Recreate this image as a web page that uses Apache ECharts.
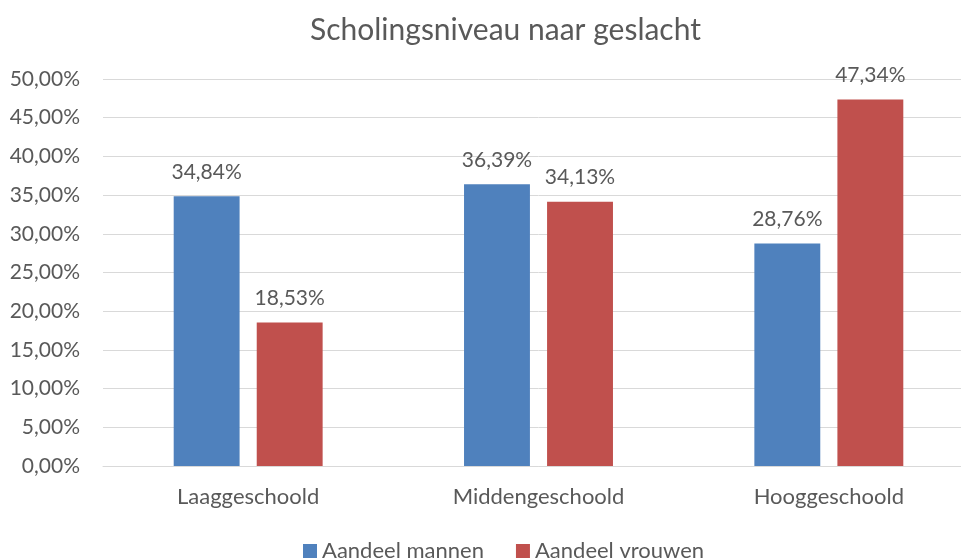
<!DOCTYPE html>
<html>
<head>
<meta charset="utf-8">
<script src="https://cdn.jsdelivr.net/npm/echarts@6/dist/echarts.min.js"></script>
<style>
  html, body { margin: 0; padding: 0; background: #fff; overflow: hidden; }
  #chart { width: 975px; height: 559px; }
</style>
</head>
<body>
<div id="chart"></div>
<script>
const categories = ["Laaggeschoold", "Middengeschoold", "Hooggeschoold"];
const mannen = [34.84, 36.39, 28.76];
const vrouwen = [18.53, 34.13, 47.34];
const seriesNames = ["Aandeel mannen", "Aandeel vrouwen"];

const fmt = (v) => v.toFixed(2).replace(".", ",") + "%";
const font = "Lato";
const textColor = "#595959";

const chart = echarts.init(document.getElementById("chart"));

const dataLabel = {
  show: true,
  position: "top",
  distance: 14,
  fontFamily: font,
  fontSize: 21,
  color: textColor,
  formatter: (p) => fmt(p.value),
};

const option = {
  animation: false,
  title: {
    text: "Scholingsniveau naar geslacht",
    left: 305,
    top: 10,
    textStyle: { fontFamily: font, fontSize: 30, fontWeight: "normal", color: textColor },
  },
  legend: {
    data: seriesNames,
    left: 298,
    top: 535,
    itemWidth: 14,
    itemHeight: 14,
    itemGap: 32,
    icon: "rect",
    textStyle: { fontFamily: font, fontSize: 22, color: textColor },
  },
  grid: { left: 103, right: 1, top: 79, bottom: 93, containLabel: false },
  xAxis: {
    type: "category",
    data: categories,
    axisLine: { lineStyle: { color: "#d9d9d9", width: 1 } },
    axisTick: { show: false },
    axisLabel: { fontFamily: font, fontSize: 22, color: textColor, margin: 20 },
  },
  yAxis: {
    type: "value",
    min: 0,
    max: 50,
    interval: 5,
    axisLine: { show: false },
    axisTick: { show: false },
    splitLine: { lineStyle: { color: "#d9d9d9", width: 1 } },
    axisLabel: {
      fontFamily: font,
      fontSize: 21,
      color: textColor,
      margin: 23,
      formatter: (v) => fmt(v),
    },
  },
  series: [
    {
      name: seriesNames[0],
      type: "bar",
      data: mannen,
      barGap: "26%",
      barCategoryGap: "48.7%",
      itemStyle: { color: "#4F81BD" },
      label: dataLabel,
    },
    {
      name: seriesNames[1],
      type: "bar",
      data: vrouwen,
      itemStyle: { color: "#C0504D" },
      label: dataLabel,
    },
  ],
};

chart.setOption(option);
</script>
</body>
</html>
